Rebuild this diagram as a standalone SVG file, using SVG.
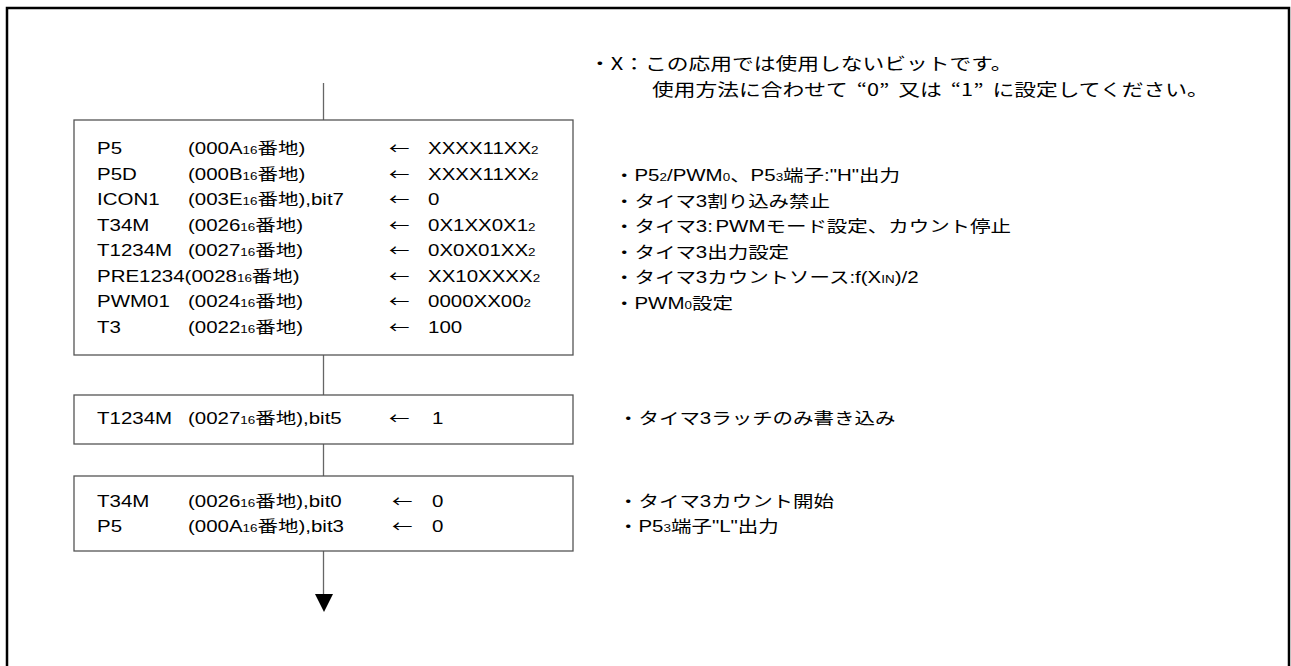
<svg xmlns="http://www.w3.org/2000/svg" width="1291" height="666" viewBox="0 0 1291 666">
<style>
text{font-family:"Liberation Sans","Noto Sans CJK JP",sans-serif;font-size:16px;fill:#000}
.j{font-family:"Noto Sans CJK JP",sans-serif}
.n{font-family:"Noto Sans CJK JP",sans-serif;font-size:17px}
.s{font-size:10.5px}
.box{fill:#fff;stroke:#555;stroke-width:1.3}
.con{stroke:#666;stroke-width:1.3;fill:none}
</style>
<rect x="7" y="8" width="1282" height="720" fill="none" stroke="#000" stroke-width="2.5"/>
<g id="note">
<text class="n" transform="matrix(1.28 0 0 1 589 70)">・X：この応用では使用しないビットです。</text>
<text class="n" transform="matrix(1.28 0 0 1 652 96)">使用方法に合わせて<tspan dx="7">“0”</tspan><tspan dx="7">又は</tspan><tspan dx="7">“1”</tspan><tspan dx="7">に設定してください。</tspan></text>
</g>
<g id="connectors">
<line class="con" x1="323.5" y1="83" x2="323.5" y2="120"/>
<line class="con" x1="323.5" y1="355" x2="323.5" y2="395"/>
<line class="con" x1="323.5" y1="444" x2="323.5" y2="476"/>
<line class="con" x1="323.5" y1="551" x2="323.5" y2="596"/>
<polygon points="315,594 333,594 324,612" fill="#000"/>
</g>
<g id="box1">
<rect class="box" x="74" y="120" width="499" height="235"/>
<text transform="matrix(1.28 0 0 1 97 154)">P5</text>
<text transform="matrix(1.28 0 0 1 188 154)">(000A<tspan class="s">16</tspan>番地)</text>
<text class="j" transform="matrix(1.28 0 0 1 389 154)">←</text>
<text transform="matrix(1.28 0 0 1 428 154)">XXXX11XX<tspan class="s">2</tspan></text>
<text transform="matrix(1.28 0 0 1 97 179.5)">P5D</text>
<text transform="matrix(1.28 0 0 1 188 179.5)">(000B<tspan class="s">16</tspan>番地)</text>
<text class="j" transform="matrix(1.28 0 0 1 389 179.5)">←</text>
<text transform="matrix(1.28 0 0 1 428 179.5)">XXXX11XX<tspan class="s">2</tspan></text>
<text transform="matrix(1.28 0 0 1 97 205)">ICON1</text>
<text transform="matrix(1.28 0 0 1 188 205)">(003E<tspan class="s">16</tspan>番地),bit7</text>
<text class="j" transform="matrix(1.28 0 0 1 389 205)">←</text>
<text transform="matrix(1.28 0 0 1 428 205)">0</text>
<text transform="matrix(1.28 0 0 1 97 230.5)">T34M</text>
<text transform="matrix(1.28 0 0 1 188 230.5)">(0026<tspan class="s">16</tspan>番地)</text>
<text class="j" transform="matrix(1.28 0 0 1 389 230.5)">←</text>
<text transform="matrix(1.28 0 0 1 428 230.5)">0X1XX0X1<tspan class="s">2</tspan></text>
<text transform="matrix(1.28 0 0 1 97 256)">T1234M</text>
<text transform="matrix(1.28 0 0 1 188 256)">(0027<tspan class="s">16</tspan>番地)</text>
<text class="j" transform="matrix(1.28 0 0 1 389 256)">←</text>
<text transform="matrix(1.28 0 0 1 428 256)">0X0X01XX<tspan class="s">2</tspan></text>
<text transform="matrix(1.28 0 0 1 97 281.5)">PRE1234(0028<tspan class="s">16</tspan>番地)</text>
<text class="j" transform="matrix(1.28 0 0 1 389 281.5)">←</text>
<text transform="matrix(1.28 0 0 1 428 281.5)">XX10XXXX<tspan class="s">2</tspan></text>
<text transform="matrix(1.28 0 0 1 97 307)">PWM01</text>
<text transform="matrix(1.28 0 0 1 188 307)">(0024<tspan class="s">16</tspan>番地)</text>
<text class="j" transform="matrix(1.28 0 0 1 389 307)">←</text>
<text transform="matrix(1.28 0 0 1 428 307)">0000XX00<tspan class="s">2</tspan></text>
<text transform="matrix(1.28 0 0 1 97 332.5)">T3</text>
<text transform="matrix(1.28 0 0 1 188 332.5)">(0022<tspan class="s">16</tspan>番地)</text>
<text class="j" transform="matrix(1.28 0 0 1 389 332.5)">←</text>
<text transform="matrix(1.28 0 0 1 428 332.5)">100</text>
</g>
<g id="box1-notes">
<text transform="matrix(1.28 0 0 1 614 181)">・P5<tspan class="s">2</tspan>/PWM<tspan class="s">0</tspan>、P5<tspan class="s">3</tspan>端子:"H"出力</text>
<text transform="matrix(1.28 0 0 1 614 206.5)">・タイマ3割り込み禁止</text>
<text transform="matrix(1.28 0 0 1 614 232)">・タイマ3:<tspan dx="2">PWMモード設定、カウント停止</tspan></text>
<text transform="matrix(1.28 0 0 1 614 257.5)">・タイマ3出力設定</text>
<text transform="matrix(1.28 0 0 1 614 283)">・タイマ3カウントソース:f(X<tspan class="s">IN</tspan>)/2</text>
<text transform="matrix(1.28 0 0 1 614 308.5)">・PWM<tspan class="s">0</tspan>設定</text>
</g>
<g id="box2">
<rect class="box" x="74" y="395" width="499" height="49"/>
<text transform="matrix(1.28 0 0 1 97 424)">T1234M</text>
<text transform="matrix(1.28 0 0 1 188 424)">(0027<tspan class="s">16</tspan>番地),bit5</text>
<text class="j" transform="matrix(1.28 0 0 1 389 424)">←</text>
<text transform="matrix(1.28 0 0 1 432 424)">1</text>
</g>
<g id="box2-notes">
<text transform="matrix(1.28 0 0 1 618 424)">・タイマ3ラッチのみ書き込み</text>
</g>
<g id="box3">
<rect class="box" x="74" y="476" width="499" height="75"/>
<text transform="matrix(1.28 0 0 1 97 507)">T34M</text>
<text transform="matrix(1.28 0 0 1 188 507)">(0026<tspan class="s">16</tspan>番地),bit0</text>
<text class="j" transform="matrix(1.28 0 0 1 392 507)">←</text>
<text transform="matrix(1.28 0 0 1 432 507)">0</text>
<text transform="matrix(1.28 0 0 1 97 532)">P5</text>
<text transform="matrix(1.28 0 0 1 188 532)">(000A<tspan class="s">16</tspan>番地),bit3</text>
<text class="j" transform="matrix(1.28 0 0 1 392 532)">←</text>
<text transform="matrix(1.28 0 0 1 432 532)">0</text>
</g>
<g id="box3-notes">
<text transform="matrix(1.28 0 0 1 618 507)">・タイマ3カウント開始</text>
<text transform="matrix(1.28 0 0 1 618 532)">・P5<tspan class="s">3</tspan>端子"L"出力</text>
</g>
</svg>
